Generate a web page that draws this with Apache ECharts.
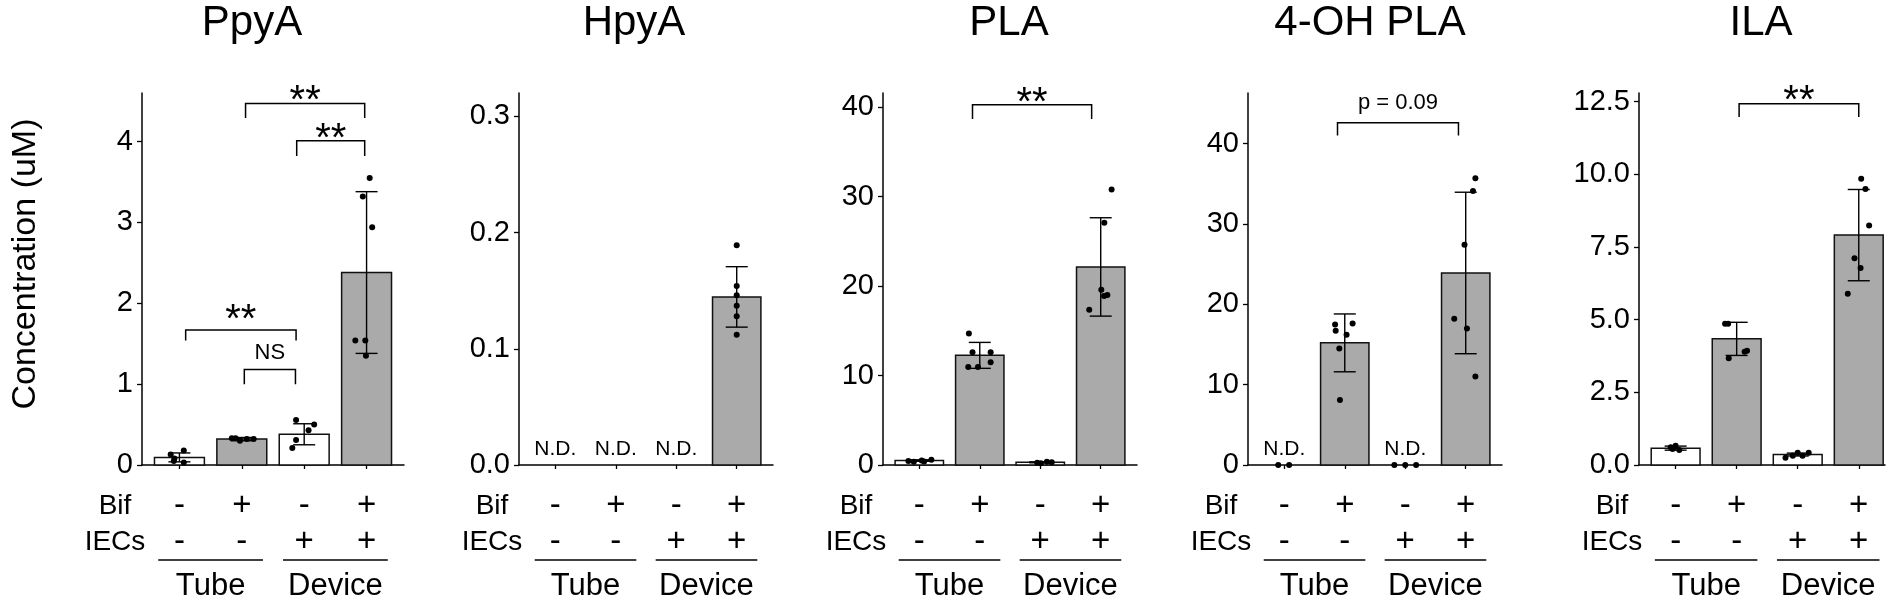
<!DOCTYPE html>
<html>
<head>
<meta charset="utf-8">
<title>Bif metabolites</title>
<script src="https://cdn.jsdelivr.net/npm/echarts@6.0.0/dist/echarts.min.js"></script>
<style>
  html, body { margin: 0; padding: 0; background: #fff; }
  #chart { width: 1902px; height: 606px; }
</style>
</head>
<body>
<div id="chart"></div>
<script>
// conditions under every panel
const positions = [1, 2, 3, 4];
const bifMarks = ['-', '+', '-', '+'];
const iecMarks = ['-', '-', '+', '+'];
const groupNames = ['Tube', 'Device'];
const groupCenters = [1.5, 3.5];

const titles = ['PpyA', 'HpyA', 'PLA', '4-OH PLA', 'ILA'];

// PpyA
const ppyaMean = [0.094, 0.32, 0.38, 2.38];
const ppyaSd = [0.055, 0.02, 0.13, 1.0];
const ppyaDots = [[0.13, 0.18, 0.08, 0.05, 0.03], [0.33, 0.33, 0.30, 0.32, 0.32], [0.555, 0.50, 0.43, 0.31, 0.21], [3.55, 3.32, 2.94, 1.54, 1.54, 1.35]];
const ppyaDotsX = [[-0.14, 0.07, -0.08, -0.09, 0.07], [-0.16, -0.1, -0.03, 0.08, 0.19], [-0.13, 0.16, 0.07, -0.13, -0.19], [0.05, -0.06, 0.09, -0.18, -0.02, -0.01]];
const ppyaTicks = [0, 1, 2, 3, 4];
// [from, to, line y, leg end y, label y, label]
const ppyaBrackets = [[2.06, 3.97, 4.47, 4.29, 4.60, '**'], [2.88, 3.97, 4.01, 3.82, 4.13, '**'], [1.10, 2.87, 1.67, 1.54, 1.89, '**'], [2.04, 2.86, 1.18, 1.0, 1.38, 'NS']];

// HpyA
const hpyaMean = [null, null, null, 0.1446];
const hpyaSd = [0, 0, 0, 0.026];
const hpyaDots = [[], [], [], [0.189, 0.154, 0.146, 0.137, 0.128, 0.112]];
const hpyaDotsX = [[], [], [], [0, 0, 0, 0, 0, 0]];
const hpyaTicks = [0, 0.1, 0.2, 0.3];
const hpyaBrackets = [];

// PLA
const plaMean = [0.5, 12.26, 0.3, 22.15];
const plaSd = [0.08, 1.45, 0.05, 5.5];
const plaDots = [[0.45, 0.35, 0.5, 0.4, 0.6], [14.7, 12.6, 12.6, 11.5, 10.96, 10.96], [0.25, 0.2, 0.35, 0.3], [30.8, 27.1, 19.6, 19.0, 18.9, 17.35]];
const plaDotsX = [[-0.18, -0.09, 0.04, 0.08, 0.2], [-0.18, -0.12, 0.18, 0.18, -0.19, -0.03], [-0.05, 0.01, 0.11, 0.19], [0.18, 0.06, 0.01, 0.11, 0.055, -0.19]];
const plaTicks = [0, 10, 20, 30, 40];
const plaBrackets = [[1.88, 3.85, 40.3, 38.7, 41.4, '**']];

// 4-OH PLA
const ohplaMean = [null, 15.2, null, 23.9];
const ohplaSd = [0, 3.6, 0, 10.05];
const ohplaDots = [[0, 0], [17.5, 17.6, 16.7, 16.2, 14.5, 8.1], [0, 0, 0], [35.7, 34.1, 27.4, 18.2, 17.0, 11.0]];
const ohplaDotsX = [[-0.1, 0.08], [-0.16, 0.13, -0.15, 0.03, -0.09, -0.08], [-0.18, 0, 0.18], [0.16, 0.12, -0.02, -0.19, 0.02, 0.16]];
const ohplaTicks = [0, 10, 20, 30, 40];
const ohplaBrackets = [[1.88, 3.88, 42.6, 41.0, 45.1, 'p = 0.09']];

// ILA
const ilaMean = [0.58, 4.34, 0.36, 7.91];
const ilaSd = [0.07, 0.57, 0.05, 1.57];
const ilaDots = [[0.61, 0.66, 0.52, 0.55], [4.86, 4.86, 3.67, 3.9, 3.93], [0.25, 0.32, 0.42, 0.32, 0.42], [9.85, 9.5, 8.24, 7.11, 6.78, 5.89]];
const ilaDotsX = [[-0.08, 0, 0.06, -0.05], [-0.19, -0.14, -0.13, 0.13, 0.17], [-0.2, -0.08, 0, 0.08, 0.18], [0.04, 0.11, 0.17, -0.07, 0.03, -0.18]];
const ilaTicks = [0, 2.5, 5, 7.5, 10, 12.5];
const ilaBrackets = [[2.04, 4.0, 12.43, 11.97, 12.79, '**']];

const FONT = '"Liberation Sans", Arial, Helvetica, sans-serif';
const GRAY = '#aaaaaa';

// layout of the five panels
const panels = [
  { mean: ppyaMean, sd: ppyaSd, dots: ppyaDots, dotsX: ppyaDotsX, ticks: ppyaTicks, brackets: ppyaBrackets, yMax: 4.6, dec: 0, left: 142, width: 262, xMax: 4.6, titleX: 252 },
  { mean: hpyaMean, sd: hpyaSd, dots: hpyaDots, dotsX: hpyaDotsX, ticks: hpyaTicks, brackets: hpyaBrackets, yMax: 0.32, dec: 1, left: 519, width: 254, xMax: 4.6, titleX: 634 },
  { mean: plaMean, sd: plaSd, dots: plaDots, dotsX: plaDotsX, ticks: plaTicks, brackets: plaBrackets, yMax: 41.6, dec: 0, left: 883, width: 254, xMax: 4.6, titleX: 1009 },
  { mean: ohplaMean, sd: ohplaSd, dots: ohplaDots, dotsX: ohplaDotsX, ticks: ohplaTicks, brackets: ohplaBrackets, yMax: 46.3, dec: 0, left: 1248, width: 254, xMax: 4.6, titleX: 1370 },
  { mean: ilaMean, sd: ilaSd, dots: ilaDots, dotsX: ilaDotsX, ticks: ilaTicks, brackets: ilaBrackets, yMax: 12.8, dec: 1, left: 1639, width: 246, xMax: 4.43, titleX: 1761 }
];
const X_MIN = 0.4;

function txt(s, x, y, size, align) {
  return {
    type: 'text', x: x, y: y,
    style: { text: s, fill: '#000', fontSize: size, fontFamily: FONT, align: align || 'center', verticalAlign: 'middle' }
  };
}

function renderBar(params, api) {
  const x = api.value(0), v = api.value(1);
  const p0 = api.coord([x - 0.4, 0]);
  const p1 = api.coord([x + 0.4, v]);
  return {
    type: 'rect',
    shape: { x: p0[0], y: p1[1], width: p1[0] - p0[0], height: p0[1] - p1[1] },
    style: { fill: api.value(2) ? GRAY : '#ffffff', stroke: '#111', lineWidth: 1.5 }
  };
}

function renderErr(params, api) {
  const x = api.value(0), m = api.value(1), s = api.value(2);
  const hi = api.coord([x, m + s]), lo = api.coord([x, m - s]);
  const cap = 11;
  const st = { stroke: '#000', lineWidth: 1.4 };
  return {
    type: 'group', children: [
      { type: 'line', shape: { x1: hi[0], y1: hi[1], x2: lo[0], y2: lo[1] }, style: st },
      { type: 'line', shape: { x1: hi[0] - cap, y1: hi[1], x2: hi[0] + cap, y2: hi[1] }, style: st },
      { type: 'line', shape: { x1: lo[0] - cap, y1: lo[1], x2: lo[0] + cap, y2: lo[1] }, style: st }
    ]
  };
}

function renderNd(params, api) {
  const p = api.coord([api.value(0), 0]);
  return txt('N.D.', p[0], p[1] - 16, 21);
}

function bracketRenderer(list) {
  return function (params, api) {
    const b = list[params.dataIndex];
    const a1 = api.coord([b[0], b[2]]), a2 = api.coord([b[1], b[2]]);
    const legY = api.coord([b[0], b[3]])[1];
    const labY = api.coord([b[0], b[4]])[1];
    const stars = b[5] === '**';
    const fs = stars ? 40 : 22;
    return {
      type: 'group', children: [
        {
          type: 'polyline',
          shape: { points: [[a1[0], legY], a1, a2, [a2[0], legY]] },
          style: { stroke: '#000', lineWidth: 1.5, fill: null }
        },
        txt(b[5], (a1[0] + a2[0]) / 2, labY + (stars ? fs * 0.22 : 0), fs)
      ]
    };
  };
}

function conditionRenderer() {
  return function (params, api) {
    const base = api.coord([X_MIN, 0]);
    const axisY = base[1];
    const rows = [axisY + 41, axisY + 77];
    const kids = [txt('Bif', base[0] - 27, rows[0], 28), txt('IECs', base[0] - 27, rows[1], 28)];
    positions.forEach(function (p, k) {
      const cx = api.coord([p, 0])[0];
      kids.push(txt(bifMarks[k], cx, rows[0], 33));
      kids.push(txt(iecMarks[k], cx, rows[1], 33));
    });
    groupCenters.forEach(function (g, k) {
      const a = api.coord([g - 0.84, 0])[0], b = api.coord([g + 0.84, 0])[0];
      kids.push({ type: 'line', shape: { x1: a, y1: axisY + 95, x2: b, y2: axisY + 95 }, style: { stroke: '#000', lineWidth: 1.5 } });
      kids.push(txt(groupNames[k], (a + b) / 2, axisY + 121, 31));
    });
    return { type: 'group', children: kids };
  };
}

const grid = [], xAxis = [], yAxis = [], series = [], title = [];

panels.forEach(function (p, i) {
  grid.push({ left: p.left, top: 93, width: p.width, height: 372, outerBoundsMode: 'none' });
  title.push({
    text: titles[i], left: p.titleX, top: 2, textAlign: 'center', padding: 0,
    textStyle: { fontSize: 42, fontWeight: 'normal', color: '#000', fontFamily: FONT }
  });
  xAxis.push({
    type: 'value', gridIndex: i, min: X_MIN, max: p.xMax,
    axisLine: { show: true, lineStyle: { color: '#000', width: 1.5 } },
    axisTick: { show: true, length: 4, customValues: positions, lineStyle: { color: '#000', width: 1.3 } },
    axisLabel: { show: false },
    splitLine: { show: false }
  });
  const y = {
    type: 'value', gridIndex: i, min: 0, max: p.yMax,
    axisLine: { show: true, lineStyle: { color: '#000', width: 1.5 } },
    axisTick: { show: true, length: 5, customValues: p.ticks, lineStyle: { color: '#000', width: 1.3 } },
    axisLabel: {
      customValues: p.ticks, color: '#000', fontSize: 29, fontFamily: FONT, margin: 9,
      formatter: (function (d) { return function (v) { return Number(v).toFixed(d); }; })(p.dec)
    },
    splitLine: { show: false }
  };
  if (i === 0) {
    y.name = 'Concentration (uM)';
    y.nameLocation = 'middle';
    y.nameRotate = 90;
    y.nameGap = 99;
    y.nameTextStyle = { fontSize: 34, color: '#000', fontFamily: FONT, padding: [0, 0, 0, 30] };
  }
  yAxis.push(y);

  const bars = [], errs = [], nd = [], dots = [];
  positions.forEach(function (pos, k) {
    if (p.mean[k] === null) {
      nd.push([pos, 0]);
    } else {
      bars.push([pos, p.mean[k], bifMarks[k] === '+' ? 1 : 0]);
      errs.push([pos, p.mean[k], p.sd[k]]);
    }
    p.dots[k].forEach(function (v, j) { dots.push([pos + p.dotsX[k][j], v]); });
  });

  series.push({ type: 'custom', xAxisIndex: i, yAxisIndex: i, z: 2, renderItem: renderBar, data: bars, silent: true });
  series.push({ type: 'custom', xAxisIndex: i, yAxisIndex: i, z: 3, renderItem: renderErr, data: errs, silent: true });
  series.push({ type: 'custom', xAxisIndex: i, yAxisIndex: i, z: 3, renderItem: renderNd, data: nd, silent: true });
  series.push({
    type: 'scatter', xAxisIndex: i, yAxisIndex: i, z: 4, symbolSize: 6, silent: true,
    itemStyle: { color: '#000', opacity: 1 }, data: dots
  });
  series.push({
    type: 'custom', xAxisIndex: i, yAxisIndex: i, z: 3, clip: false, silent: true,
    renderItem: bracketRenderer(p.brackets), data: p.brackets.map(function (b) { return [b[0], b[2]]; })
  });
  series.push({
    type: 'custom', xAxisIndex: i, yAxisIndex: i, z: 3, clip: false, silent: true,
    renderItem: conditionRenderer(), data: [[1, 0]]
  });
});

const chart = echarts.init(document.getElementById('chart'), null, { renderer: 'canvas' });
chart.setOption({
  backgroundColor: '#ffffff',
  animation: false,
  title: title,
  grid: grid,
  xAxis: xAxis,
  yAxis: yAxis,
  series: series
});
</script>
</body>
</html>
